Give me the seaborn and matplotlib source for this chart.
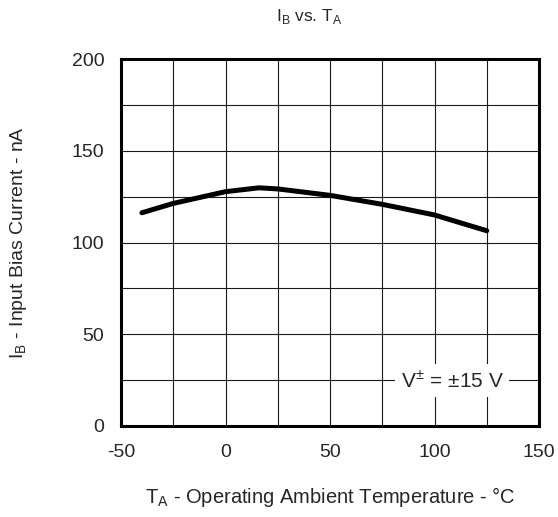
import matplotlib
matplotlib.use("Agg")
import matplotlib.pyplot as plt
import numpy as np
import pandas as pd
import seaborn as sns

temp_c = [-40, -25, 0, 16, 25, 50, 75, 100, 125]
bias_na = [116.2, 121.3, 127.7, 129.8, 129.2, 125.7, 120.8, 115.0, 106.4]

x_ticks = [-50, 0, 50, 100, 150]
y_ticks = [0, 50, 100, 150, 200]

sns.set_style("white")
plt.rcParams["font.family"] = ["Liberation Sans", "DejaVu Sans"]
plt.rcParams["mathtext.fontset"] = "custom"
plt.rcParams["mathtext.rm"] = "Liberation Sans"
plt.rcParams["axes.unicode_minus"] = False

df = pd.DataFrame({"T": temp_c, "I": bias_na})

fig = plt.figure(figsize=(5.58, 5.17), dpi=100)
ax = fig.add_axes([121 / 558, 1 - 426 / 517, 418 / 558, 367 / 517])

sns.lineplot(data=df, x="T", y="I", ax=ax, color="black", linewidth=3.6)

ax.set_xlim(-50, 150)
ax.set_ylim(0, 200)
ax.set_xticks(x_ticks)
ax.set_yticks(y_ticks)
ax.set_xticks(np.arange(-25, 151, 50), minor=True)
ax.set_yticks(np.arange(25, 201, 50), minor=True)
ax.grid(which="both", color="#1a1a1a", linewidth=0.8)
ax.tick_params(which="both", length=0, labelsize=14)
ax.tick_params(axis="x", pad=13)
ax.tick_params(axis="y", pad=12)
for s in ax.spines.values():
    s.set_linewidth(2.2)
    s.set_color("black")
    s.set_visible(True)

ax.set_xlabel(r"T$_\mathregular{A}$ - Operating Ambient Temperature - °C", fontsize=14.5, labelpad=17)
ax.set_ylabel(r"I$_\mathregular{B}$ - Input Bias Current - nA", fontsize=14, labelpad=31)
fig.text(309 / 558, 1 - 17 / 517, r"I$_\mathregular{B}$ vs. T$_\mathregular{A}$",
         ha="center", va="center", fontsize=12.5)

ax.text(108.5, 25, r"V$^{\pm}$ = ±15 V", ha="center", va="center", fontsize=15,
        bbox=dict(facecolor="white", edgecolor="none", pad=4))

fig.savefig("out.png", dpi=100)
